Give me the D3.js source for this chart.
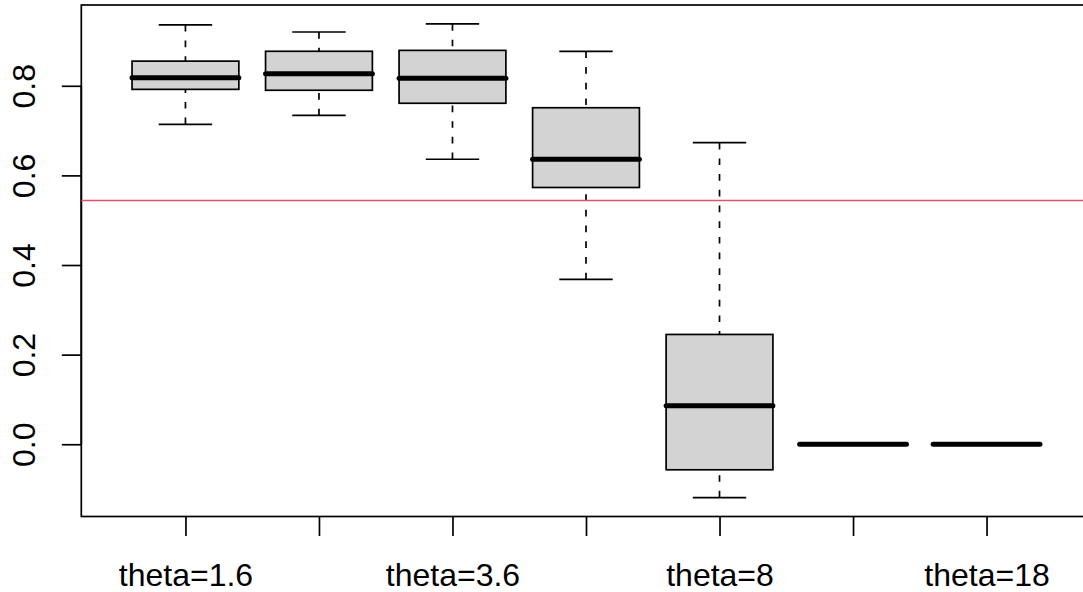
<!doctype html>
<html>
<head>
<script src="https://d3js.org/d3.v7.min.js"></script>
<style>
    body { margin: 0; background: #fff; }
    svg text { font-family: "Liberation Sans", Arial, sans-serif; font-size: 32px; fill: #000; }
</style>
</head>
<body>
<script>
    // boxplot stats per group
    let categories = ["theta=1.6", "theta=2.4", "theta=3.6", "theta=5.4", "theta=8", "theta=12", "theta=18"];
    let whiskerLow  = [0.714, 0.734, 0.636, 0.368, -0.119, 0, 0];
    let q1          = [0.792, 0.790, 0.761, 0.573, -0.057, 0, 0];
    let median      = [0.818, 0.827, 0.817, 0.636,  0.086, 0, 0];
    let q3          = [0.855, 0.877, 0.879, 0.751,  0.245, 0, 0];
    let whiskerHigh = [0.936, 0.920, 0.938, 0.877,  0.673, 0, 0];
    let yTicks = [0.0, 0.2, 0.4, 0.6, 0.8];
    let refLine = 0.544;

    let width = 1083, height = 592;
    let plotLeft = 81.3, plotTop = 5, plotRight = 1090.7, plotBottom = 516.5;
    let lw = 1.7;

    let svg = d3.select("body").append("svg")
        .attr("width", width)
        .attr("height", height);

    // R style: pad the limits by 4%
    let n = categories.length;
    let xPad = n * 0.04;
    let x = d3.scaleLinear()
        .domain([0.5 - xPad, n + 0.5 + xPad])
        .range([plotLeft, plotRight]);

    let lo = d3.min(whiskerLow), hi = d3.max(whiskerHigh);
    let yPad = (hi - lo) * 0.04;
    let y = d3.scaleLinear()
        .domain([lo - yPad, hi + yPad])
        .range([plotBottom, plotTop]);

    let boxW = (x(2) - x(1)) * 0.8;
    let capW = boxW * 0.5;

    let data = categories.map((c, i) => ({
        i: i + 1, lo: whiskerLow[i], q1: q1[i], med: median[i], q3: q3[i], hi: whiskerHigh[i]
    }));

    let g = svg.append("g").selectAll("g")
        .data(data)
        .enter()
        .append("g");

    // whiskers (dashed, drawn from the end toward the box)
    g.append("line")
        .attr("x1", d => x(d.i)).attr("x2", d => x(d.i))
        .attr("y1", d => y(d.lo)).attr("y2", d => y(d.q1))
        .attr("stroke", "#000").attr("stroke-width", lw)
        .attr("stroke-dasharray", "6.7,9");
    g.append("line")
        .attr("x1", d => x(d.i)).attr("x2", d => x(d.i))
        .attr("y1", d => y(d.hi)).attr("y2", d => y(d.q3))
        .attr("stroke", "#000").attr("stroke-width", lw)
        .attr("stroke-dasharray", "6.7,9");

    // staples
    ["lo", "hi"].forEach(k => {
        g.append("line")
            .attr("x1", d => x(d.i) - capW / 2).attr("x2", d => x(d.i) + capW / 2)
            .attr("y1", d => y(d[k])).attr("y2", d => y(d[k]))
            .attr("stroke", "#000").attr("stroke-width", lw);
    });

    // boxes
    g.append("rect")
        .attr("x", d => x(d.i) - boxW / 2)
        .attr("y", d => y(d.q3))
        .attr("width", boxW)
        .attr("height", d => y(d.q1) - y(d.q3))
        .attr("fill", "#D3D3D3")
        .attr("stroke", "#000").attr("stroke-width", lw);

    // medians
    g.append("line")
        .attr("x1", d => x(d.i) - boxW / 2).attr("x2", d => x(d.i) + boxW / 2)
        .attr("y1", d => y(d.med)).attr("y2", d => y(d.med))
        .attr("stroke", "#000").attr("stroke-width", 5)
        .attr("stroke-linecap", "round");

    // frame
    svg.append("rect")
        .attr("x", plotLeft).attr("y", plotTop)
        .attr("width", plotRight - plotLeft).attr("height", plotBottom - plotTop)
        .attr("fill", "none").attr("stroke", "#000").attr("stroke-width", lw);

    // x axis
    let xAxis = svg.append("g")
        .attr("transform", "translate(0," + plotBottom + ")")
        .call(d3.axisBottom(x)
            .tickValues(d3.range(1, n + 1))
            .tickFormat(d => categories[d - 1])
            .tickSize(19.5)
            .tickPadding(0));
    xAxis.select(".domain").remove();
    xAxis.selectAll("line").attr("stroke", "#000").attr("stroke-width", lw);
    xAxis.attr("font-size", null).attr("font-family", null);
    xAxis.selectAll("text")
        .attr("y", 586 - plotBottom).attr("dy", null);

    // drop labels that would overlap the previous one, like R does
    // (R keeps a gap of one "m" between labels)
    let gap = 0.833 * 32;
    let lastEnd = -Infinity;
    xAxis.selectAll(".tick").each(function (d) {
        let t = d3.select(this).select("text");
        let b = t.node().getBBox();
        let x0 = x(d) + b.x, x1 = x(d) + b.x + b.width;
        if (x0 < lastEnd + gap) t.remove();
        else lastEnd = x1;
    });

    // y axis
    let yAxis = svg.append("g")
        .attr("transform", "translate(" + plotLeft + ",0)")
        .call(d3.axisLeft(y)
            .tickValues(yTicks)
            .tickFormat(d3.format(".1f"))
            .tickSize(19.5));
    yAxis.attr("font-size", null).attr("font-family", null);
    yAxis.select(".domain")
        .attr("d", "M0," + y(yTicks[0]) + "V" + y(yTicks[yTicks.length - 1]))
        .attr("stroke", "#000").attr("stroke-width", lw);
    yAxis.selectAll("line").attr("stroke", "#000").attr("stroke-width", lw);
    yAxis.selectAll("text")
        .attr("x", null).attr("dy", null)
        .attr("text-anchor", "middle")
        .attr("transform", "translate(" + (35 - plotLeft) + ",0) rotate(-90)");

    // reference line
    svg.append("line")
        .attr("x1", plotLeft).attr("x2", plotRight)
        .attr("y1", y(refLine)).attr("y2", y(refLine))
        .attr("stroke", "#DF536B").attr("stroke-width", 1.7);
</script>
</body>
</html>
